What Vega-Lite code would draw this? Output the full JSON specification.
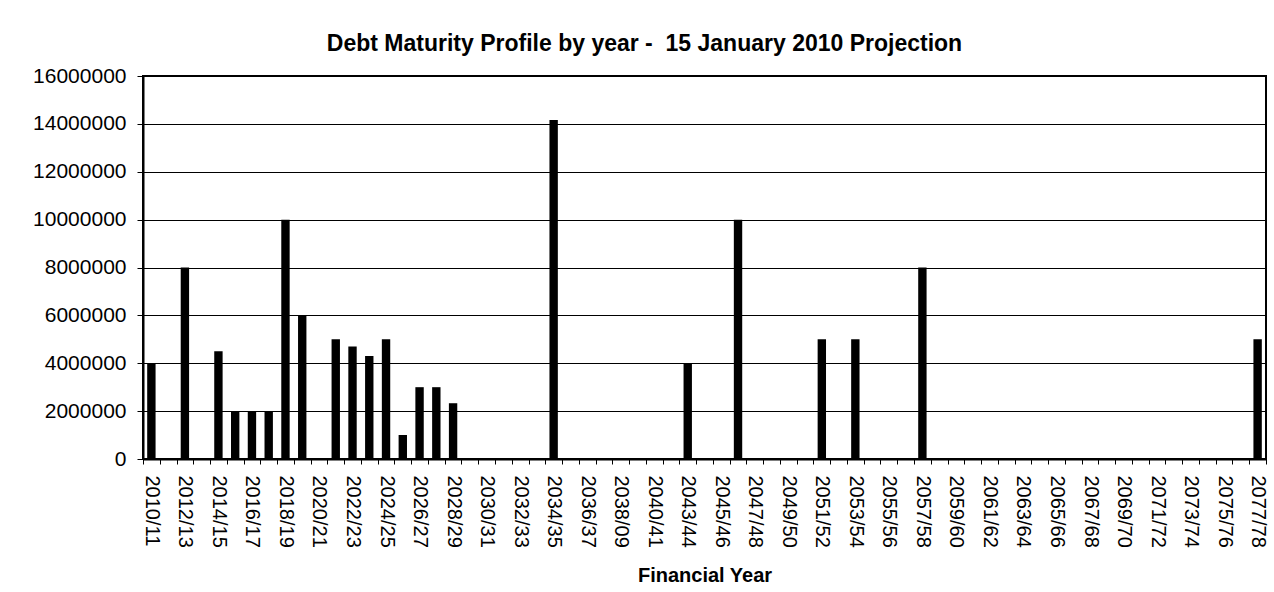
{
  "$schema": "https://vega.github.io/schema/vega-lite/v6.json",
  "width": 1123,
  "height": 383,
  "padding": {"left": 32, "top": 33, "right": 8, "bottom": 4},
  "background": "white",
  "title": {
    "text": "Debt Maturity Profile by year -\u00a0 15 January 2010 Projection",
    "font": "Liberation Sans",
    "fontSize": 23,
    "fontWeight": "bold",
    "color": "#000000",
    "anchor": "middle",
    "frame": "group",
    "dx": -60,
    "offset": 9
  },
  "data": {
    "values": [
      {"year": "2010/11", "amount": 4000000},
      {"year": "2011/12", "amount": 0},
      {"year": "2012/13", "amount": 8000000},
      {"year": "2013/14", "amount": 0},
      {"year": "2014/15", "amount": 4500000},
      {"year": "2015/16", "amount": 2000000},
      {"year": "2016/17", "amount": 2000000},
      {"year": "2017/18", "amount": 2000000},
      {"year": "2018/19", "amount": 10000000},
      {"year": "2019/20", "amount": 6000000},
      {"year": "2020/21", "amount": 0},
      {"year": "2021/22", "amount": 5000000},
      {"year": "2022/23", "amount": 4700000},
      {"year": "2023/24", "amount": 4300000},
      {"year": "2024/25", "amount": 5000000},
      {"year": "2025/26", "amount": 1000000},
      {"year": "2026/27", "amount": 3000000},
      {"year": "2027/28", "amount": 3000000},
      {"year": "2028/29", "amount": 2330000},
      {"year": "2029/30", "amount": 0},
      {"year": "2030/31", "amount": 0},
      {"year": "2031/32", "amount": 0},
      {"year": "2032/33", "amount": 0},
      {"year": "2033/34", "amount": 0},
      {"year": "2034/35", "amount": 14160000},
      {"year": "2035/36", "amount": 0},
      {"year": "2036/37", "amount": 0},
      {"year": "2037/38", "amount": 0},
      {"year": "2038/09", "amount": 0},
      {"year": "2039/40", "amount": 0},
      {"year": "2040/41", "amount": 0},
      {"year": "2041/42", "amount": 0},
      {"year": "2043/44", "amount": 4000000},
      {"year": "2044/45", "amount": 0},
      {"year": "2045/46", "amount": 0},
      {"year": "2046/47", "amount": 10000000},
      {"year": "2047/48", "amount": 0},
      {"year": "2048/49", "amount": 0},
      {"year": "2049/50", "amount": 0},
      {"year": "2050/51", "amount": 0},
      {"year": "2051/52", "amount": 5000000},
      {"year": "2052/53", "amount": 0},
      {"year": "2053/54", "amount": 5000000},
      {"year": "2054/55", "amount": 0},
      {"year": "2055/56", "amount": 0},
      {"year": "2056/57", "amount": 0},
      {"year": "2057/58", "amount": 8000000},
      {"year": "2058/59", "amount": 0},
      {"year": "2059/60", "amount": 0},
      {"year": "2060/61", "amount": 0},
      {"year": "2061/62", "amount": 0},
      {"year": "2062/63", "amount": 0},
      {"year": "2063/64", "amount": 0},
      {"year": "2064/65", "amount": 0},
      {"year": "2065/66", "amount": 0},
      {"year": "2066/67", "amount": 0},
      {"year": "2067/68", "amount": 0},
      {"year": "2068/69", "amount": 0},
      {"year": "2069/70", "amount": 0},
      {"year": "2070/71", "amount": 0},
      {"year": "2071/72", "amount": 0},
      {"year": "2072/73", "amount": 0},
      {"year": "2073/74", "amount": 0},
      {"year": "2074/75", "amount": 0},
      {"year": "2075/76", "amount": 0},
      {"year": "2076/77", "amount": 0},
      {"year": "2077/78", "amount": 5000000}
    ]
  },
  "mark": {"type": "bar", "color": "#000000", "width": {"band": 0.5}},
  "encoding": {
    "x": {
      "field": "year",
      "type": "nominal",
      "sort": null,
      "scale": {"paddingInner": 0, "paddingOuter": 0},
      "title": "Financial Year",
      "axis": {
        "labelAngle": 90,
        "labelAlign": "left",
        "labelBaseline": "middle",
        "labelFont": "Liberation Sans",
        "labelFontSize": 20,
        "labelColor": "#000000",
        "labelPadding": 11,
        "labelOverlap": false,
        "labelFlush": false,
        "labelExpr": "indexof(['2010/11','2012/13','2014/15','2016/17','2018/19','2020/21','2022/23','2024/25','2026/27','2028/29','2030/31','2032/33','2034/35','2036/37','2038/09','2040/41','2043/44','2045/46','2047/48','2049/50','2051/52','2053/54','2055/56','2057/58','2059/60','2061/62','2063/64','2065/66','2067/68','2069/70','2071/72','2073/74','2075/76','2077/78'], datum.value) >= 0 ? datum.value : ''",
        "tickBand": "extent",
        "ticks": true,
        "tickSize": 5,
        "tickColor": "#000000",
        "tickWidth": 1,
        "domainColor": "#000000",
        "domainWidth": 2,
        "grid": false,
        "titleFont": "Liberation Sans",
        "titleFontSize": 20,
        "titleFontWeight": "bold",
        "titleColor": "#000000",
        "titlePadding": 18
      }
    },
    "y": {
      "field": "amount",
      "type": "quantitative",
      "scale": {"domain": [0, 16000000], "nice": false},
      "title": null,
      "axis": {
        "values": [0, 2000000, 4000000, 6000000, 8000000, 10000000, 12000000, 14000000, 16000000],
        "format": "d",
        "labelFont": "Liberation Sans",
        "labelFontSize": 21,
        "labelColor": "#000000",
        "labelPadding": 11,
        "tickSize": 6,
        "tickColor": "#000000",
        "tickWidth": 1,
        "domainColor": "#000000",
        "domainWidth": 2,
        "grid": true,
        "gridColor": "#000000",
        "gridWidth": 1,
        "gridOpacity": 1
      }
    }
  },
  "config": {
    "view": {"stroke": "#000000", "strokeWidth": 2}
  }
}
